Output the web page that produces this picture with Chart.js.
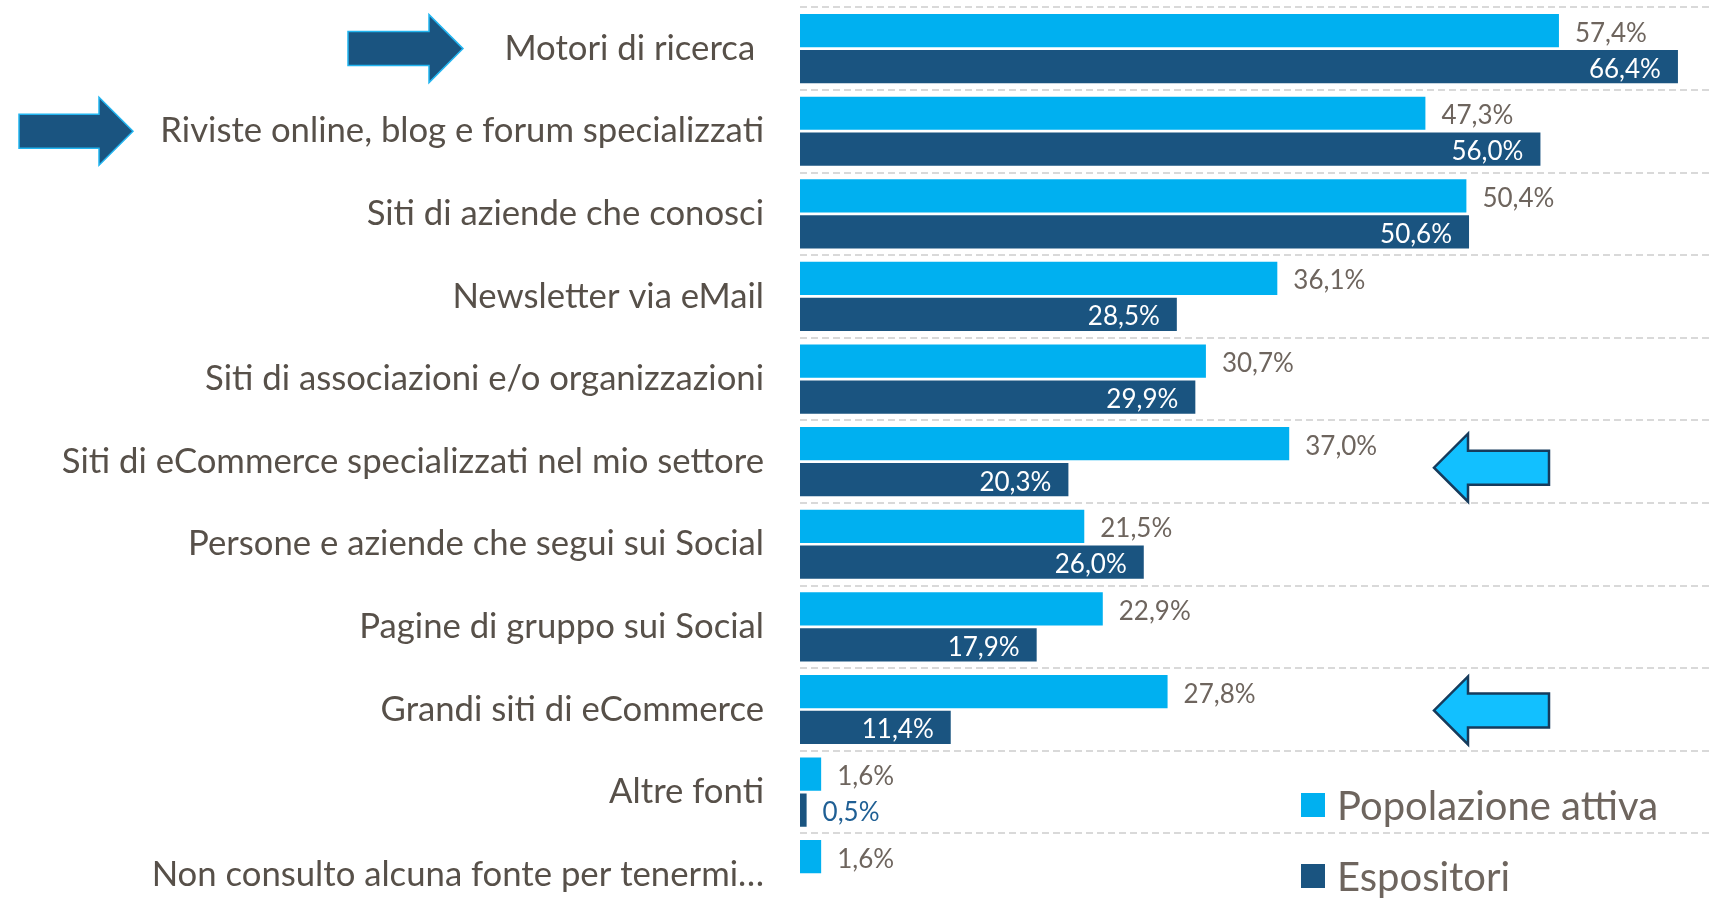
<!DOCTYPE html>
<html lang="it">
<head>
<meta charset="utf-8">
<title>Fonti di informazione</title>
<script src="https://cdn.jsdelivr.net/npm/chart.js@4.4.1/dist/chart.umd.min.js"></script>
<style>
    html, body { margin: 0; padding: 0; background: #fff; overflow: hidden; }
    #wrap { position: relative; width: 1711px; height: 916px; }
    #legend {
        position: absolute; left: 1301px; top: 781px;
        font-family: Lato, sans-serif; font-size: 40px; color: #6e655e;
    }
    #legend .item { display: flex; align-items: center; height: 48px; margin-bottom: 23px; white-space: nowrap; }
    #legend .swatch { width: 24px; height: 24px; margin-right: 12px; }
</style>
</head>
<body>
<div id="wrap">
    <canvas id="chart"></canvas>
    <div id="legend"></div>
</div>
<script>
// ── Data ─────────────────────────────────────────────────────
const categories = [
    'Motori di ricerca ',
    'Riviste online, blog e forum specializzati',
    'Siti di aziende che conosci',
    'Newsletter via eMail',
    'Siti di associazioni e/o organizzazioni',
    'Siti di eCommerce specializzati nel mio settore',
    'Persone e aziende che segui sui Social',
    'Pagine di gruppo sui Social',
    'Grandi siti di eCommerce',
    'Altre fonti',
    'Non consulto alcuna fonte per tenermi…'
];
const seriesNames = ['Popolazione attiva', 'Espositori'];
const popolazione = [57.4, 47.3, 50.4, 36.1, 30.7, 37.0, 21.5, 22.9, 27.8, 1.6, 1.6];
const espositori  = [66.4, 56.0, 50.6, 28.5, 29.9, 20.3, 26.0, 17.9, 11.4, 0.5, null];

// ── Style ────────────────────────────────────────────────────
const LIGHT = '#00B0F0';
const DARK = '#1A5480';
const TEXT = '#575049';
const LABEL = '#6e655e';

Chart.defaults.font.family = "Lato, 'Open Sans', sans-serif";

const fmt = v => v.toFixed(1).replace('.', ',') + '%';

// value labels: light series outside, dark series inside (outside if too short)
const valueLabels = {
    id: 'valueLabels',
    afterDatasetsDraw(chart) {
        const ctx = chart.ctx;
        ctx.save();
        ctx.font = "26px Lato, sans-serif";
        ctx.textBaseline = 'alphabetic';
        chart.data.datasets.forEach((ds, di) => {
            const meta = chart.getDatasetMeta(di);
            meta.data.forEach((bar, i) => {
                const v = ds.data[i];
                if (v == null) return;
                const txt = fmt(v);
                const w = ctx.measureText(txt).width;
                const len = bar.x - bar.base;
                const yb = bar.y + 11;
                if (di === 1 && len > w + 30) {
                    ctx.textAlign = 'right';
                    ctx.fillStyle = '#ffffff';
                    ctx.fillText(txt, bar.x - 17, yb);
                } else {
                    ctx.textAlign = 'left';
                    ctx.fillStyle = di === 0 ? LABEL : '#1f5f94';
                    ctx.fillText(txt, bar.x + 16, yb);
                }
            });
        });
        ctx.restore();
    }
};

// ── Arrow callouts ───────────────────────────────────────────
const callouts = [
    { cat: 0, tail: 348, tip: 463, dy: 0, fill: DARK, stroke: '#22b5f0', lw: 1.5 },
    { cat: 1, tail: 19,  tip: 133, dy: 0, fill: DARK, stroke: '#22b5f0', lw: 1.5 },
    { cat: 5, tail: 1549, tip: 1434, dy: 6, fill: '#12C0FF', stroke: '#163b5c', lw: 2.5 },
    { cat: 8, tail: 1549, tip: 1434, dy: 1, fill: '#12C0FF', stroke: '#163b5c', lw: 2.5 }
];

function drawArrow(ctx, tailX, tipX, yc, a) {
    const dir = Math.sign(tipX - tailX);
    const neck = tipX - dir * 34;
    const sh = 17, hh = 34;
    ctx.beginPath();
    ctx.moveTo(tailX, yc - sh);
    ctx.lineTo(neck, yc - sh);
    ctx.lineTo(neck, yc - hh);
    ctx.lineTo(tipX, yc);
    ctx.lineTo(neck, yc + hh);
    ctx.lineTo(neck, yc + sh);
    ctx.lineTo(tailX, yc + sh);
    ctx.closePath();
    ctx.fillStyle = a.fill;
    ctx.fill();
    ctx.lineWidth = a.lw;
    ctx.strokeStyle = a.stroke;
    ctx.stroke();
}

const arrows = {
    id: 'arrows',
    afterDraw(chart) {
        const ctx = chart.ctx;
        const y = chart.scales.y;
        ctx.save();
        ctx.lineJoin = 'miter';
        callouts.forEach(a => drawArrow(ctx, a.tail, a.tip, y.getPixelForValue(a.cat) + a.dy, a));
        ctx.restore();
    }
};

const chart = new Chart(document.getElementById('chart'), {
    type: 'bar',
    data: {
        labels: categories,
        datasets: [
            {
                label: seriesNames[0],
                data: popolazione,
                backgroundColor: LIGHT,
                categoryPercentage: 0.87,
                barPercentage: 0.925
            },
            {
                label: seriesNames[1],
                data: espositori,
                backgroundColor: DARK,
                categoryPercentage: 0.87,
                barPercentage: 0.925
            }
        ]
    },
    options: {
        indexAxis: 'y',
        responsive: true,
        maintainAspectRatio: false,
        animation: false,
        layout: { padding: { top: 7.3, right: 0, bottom: 0, left: 0 } },
        plugins: {
            legend: { display: false },
            tooltip: { enabled: false }
        },
        scales: {
            x: { display: false, min: 0, max: 68.9 },
            y: {
                border: { display: false, dash: [7, 4] },
                grid: {
                    color: '#D9D9D9',
                    lineWidth: 2,
                    drawTicks: true,
                    tickLength: 36,
                    tickColor: 'rgba(0,0,0,0)'
                },
                ticks: {
                    padding: 0,
                    color: TEXT,
                    font: { size: 34.7 }
                },
                afterFit: s => {
                    s.width = 800;
                    s.paddingTop = 0;
                    s.paddingBottom = 0;
                }
            }
        }
    },
    plugins: [valueLabels, arrows]
});

// ── HTML legend from the datasets ────────────────────────────
const legendEl = document.getElementById('legend');
chart.data.datasets.forEach(ds => {
    const item = document.createElement('div');
    item.className = 'item';
    const sw = document.createElement('span');
    sw.className = 'swatch';
    sw.style.background = ds.backgroundColor;
    const tx = document.createElement('span');
    tx.textContent = ds.label;
    item.appendChild(sw);
    item.appendChild(tx);
    legendEl.appendChild(item);
});
</script>
</body>
</html>
